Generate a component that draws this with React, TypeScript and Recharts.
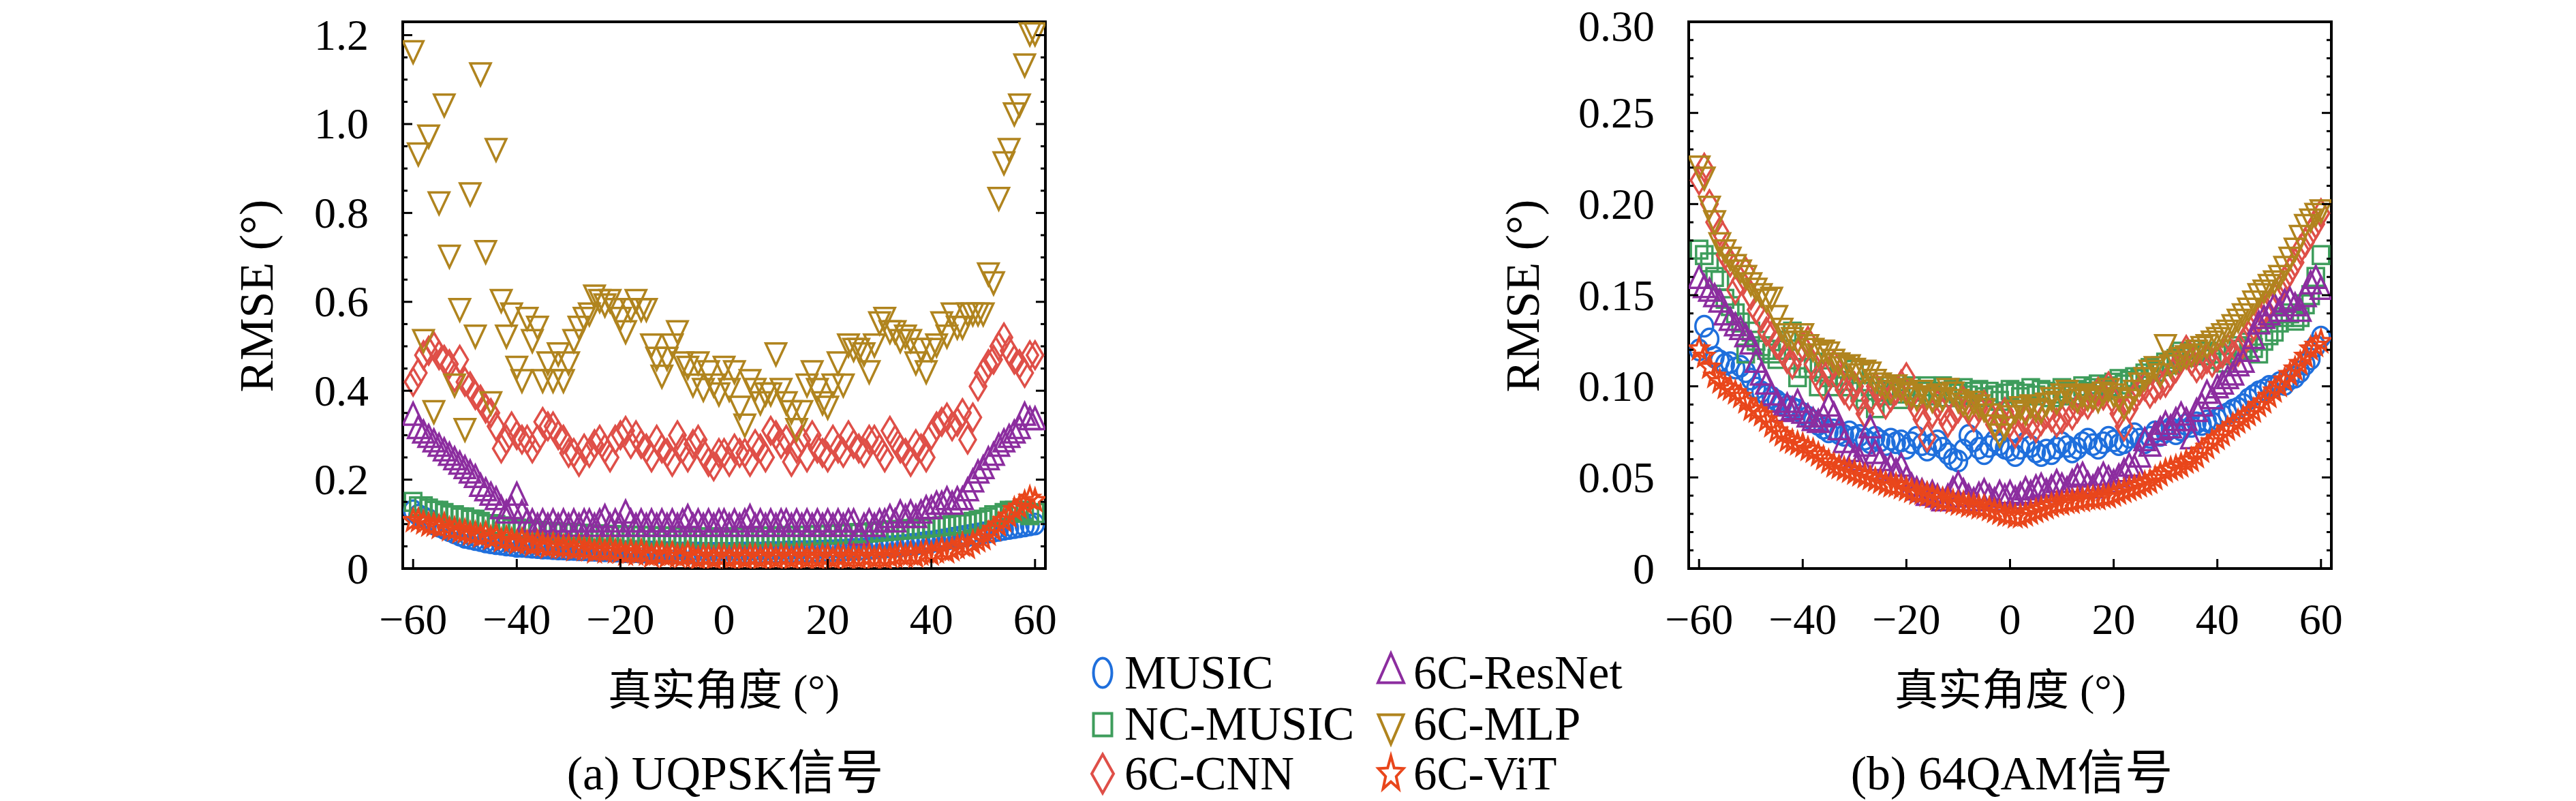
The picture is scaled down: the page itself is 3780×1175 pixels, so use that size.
import React from 'react';
import { ScatterChart, Scatter, XAxis, YAxis } from 'recharts';

const FONT = "'Liberation Serif', 'Noto Sans CJK SC', serif";

const ANGLES = [
  -60, -59, -58, -57, -56, -55, -54, -53, -52, -51,
  -50, -49, -48, -47, -46, -45, -44, -43, -42, -41,
  -40, -39, -38, -37, -36, -35, -34, -33, -32, -31,
  -30, -29, -28, -27, -26, -25, -24, -23, -22, -21,
  -20, -19, -18, -17, -16, -15, -14, -13, -12, -11,
  -10, -9, -8, -7, -6, -5, -4, -3, -2, -1,
  0, 1, 2, 3, 4, 5, 6, 7, 8, 9,
  10, 11, 12, 13, 14, 15, 16, 17, 18, 19,
  20, 21, 22, 23, 24, 25, 26, 27, 28, 29,
  30, 31, 32, 33, 34, 35, 36, 37, 38, 39,
  40, 41, 42, 43, 44, 45, 46, 47, 48, 49,
  50, 51, 52, 53, 54, 55, 56, 57, 58, 59, 60,
];

const SERIES_NAMES = ['MUSIC', 'NC-MUSIC', '6C-CNN', '6C-ResNet', '6C-MLP', '6C-ViT'];
const SERIES_COLORS = ['#1f6fdc', '#3e9d5c', '#df4f48', '#8c2d9f', '#b0841e', '#e9461b'];
const SERIES_KINDS = ['circle', 'square', 'diamond', 'triUp', 'triDown', 'star'];

// ---------- (a) UQPSK ----------
const MUSIC_A = [
  0.13, 0.12, 0.115, 0.11, 0.10, 0.095, 0.09, 0.085, 0.08, 0.075,
  0.07, 0.068, 0.065, 0.063, 0.06, 0.058, 0.056, 0.055, 0.053, 0.052,
  0.05, 0.05, 0.049, 0.048, 0.047, 0.046, 0.046, 0.045, 0.044, 0.044,
  0.043, 0.043, 0.042, 0.042, 0.041, 0.041, 0.04, 0.04, 0.04, 0.039,
  0.039, 0.038, 0.038, 0.038, 0.037, 0.037, 0.037, 0.036, 0.036, 0.036,
  0.036, 0.035, 0.035, 0.035, 0.035, 0.035, 0.034, 0.034, 0.034, 0.034,
  0.034, 0.034, 0.034, 0.035, 0.035, 0.035, 0.035, 0.035, 0.036, 0.036,
  0.036, 0.036, 0.037, 0.037, 0.037, 0.038, 0.038, 0.038, 0.039, 0.039,
  0.04, 0.04, 0.041, 0.041, 0.042, 0.043, 0.043, 0.044, 0.045, 0.046,
  0.047, 0.048, 0.049, 0.05, 0.051, 0.052, 0.054, 0.055, 0.057, 0.059,
  0.06, 0.062, 0.064, 0.066, 0.068, 0.07, 0.072, 0.074, 0.076, 0.078,
  0.08, 0.082, 0.084, 0.086, 0.088, 0.09, 0.092, 0.094, 0.096, 0.098, 0.1,
];
const NC_MUSIC_A = [
  0.15, 0.14, 0.14, 0.135, 0.13, 0.13, 0.125, 0.12, 0.12, 0.115,
  0.115, 0.11, 0.11, 0.105, 0.1, 0.1, 0.098, 0.095, 0.093, 0.09,
  0.09, 0.088, 0.087, 0.085, 0.085, 0.083, 0.082, 0.082, 0.08, 0.08,
  0.08, 0.079, 0.078, 0.078, 0.077, 0.077, 0.076, 0.076, 0.075, 0.075,
  0.075, 0.074, 0.074, 0.074, 0.073, 0.073, 0.073, 0.072, 0.072, 0.072,
  0.072, 0.071, 0.071, 0.071, 0.071, 0.07, 0.07, 0.07, 0.07, 0.07,
  0.07, 0.07, 0.07, 0.071, 0.071, 0.071, 0.071, 0.072, 0.072, 0.072,
  0.072, 0.073, 0.073, 0.073, 0.074, 0.074, 0.074, 0.075, 0.075, 0.076,
  0.076, 0.077, 0.077, 0.078, 0.078, 0.079, 0.08, 0.08, 0.081, 0.082,
  0.083, 0.084, 0.085, 0.086, 0.087, 0.088, 0.089, 0.09, 0.09, 0.092,
  0.093, 0.094, 0.095, 0.096, 0.098, 0.1, 0.1, 0.102, 0.105, 0.108,
  0.11, 0.115, 0.12, 0.12, 0.125, 0.13, 0.13, 0.125, 0.13, 0.12, 0.125,
];
const CNN_A = [
  0.42, 0.44, 0.48, 0.49, 0.50, 0.48, 0.47, 0.46, 0.43, 0.47,
  0.42, 0.41, 0.39, 0.38, 0.36, 0.35, 0.32, 0.27, 0.29, 0.32,
  0.30, 0.29, 0.29, 0.27, 0.29, 0.33, 0.32, 0.32, 0.30, 0.29,
  0.26, 0.26, 0.24, 0.27, 0.26, 0.28, 0.29, 0.27, 0.25, 0.29,
  0.30, 0.31, 0.28, 0.30, 0.28, 0.27, 0.25, 0.29, 0.27, 0.26,
  0.24, 0.30, 0.27, 0.25, 0.28, 0.29, 0.26, 0.24, 0.23, 0.26,
  0.26, 0.24, 0.27, 0.26, 0.26, 0.24, 0.28, 0.27, 0.25, 0.31,
  0.30, 0.28, 0.29, 0.24, 0.27, 0.29, 0.25, 0.30, 0.27, 0.26,
  0.25, 0.29, 0.27, 0.26, 0.30, 0.28, 0.27, 0.26, 0.29, 0.29,
  0.27, 0.25, 0.31, 0.29, 0.27, 0.26, 0.24, 0.28, 0.27, 0.25,
  0.30, 0.32, 0.33, 0.34, 0.32, 0.33, 0.35, 0.29, 0.34, 0.41,
  0.44, 0.46, 0.47, 0.50, 0.52, 0.49, 0.47, 0.46, 0.44, 0.48, 0.48,
];
const RESNET_A = [
  0.34, 0.31, 0.30, 0.29, 0.28, 0.27, 0.26, 0.25, 0.24, 0.23,
  0.22, 0.21, 0.20, 0.18, 0.17, 0.16, 0.15, 0.13, 0.12, 0.13,
  0.16, 0.12, 0.10, 0.10, 0.09, 0.10, 0.09, 0.10, 0.09, 0.10,
  0.09, 0.10, 0.09, 0.10, 0.10, 0.09, 0.10, 0.11, 0.09, 0.10,
  0.09, 0.12, 0.10, 0.09, 0.10, 0.09, 0.10, 0.09, 0.10, 0.09,
  0.10, 0.09, 0.10, 0.11, 0.09, 0.10, 0.09, 0.10, 0.09, 0.10,
  0.10, 0.09, 0.10, 0.09, 0.10, 0.11, 0.09, 0.10, 0.09, 0.10,
  0.09, 0.10, 0.10, 0.09, 0.10, 0.09, 0.10, 0.09, 0.10, 0.09,
  0.10, 0.09, 0.10, 0.09, 0.10, 0.10, 0.07, 0.09, 0.10, 0.09,
  0.10, 0.10, 0.11, 0.10, 0.12, 0.11, 0.12, 0.11, 0.12, 0.13,
  0.13, 0.14, 0.14, 0.15, 0.14, 0.15, 0.15, 0.17, 0.19, 0.21,
  0.22, 0.24, 0.25, 0.27, 0.28, 0.29, 0.30, 0.31, 0.34, 0.33, 0.33,
];
const MLP_A = [
  1.17, 0.94, 0.52, 0.98, 0.36, 0.83, 1.05, 0.71, 0.42, 0.59,
  0.32, 0.85, 0.53, 1.12, 0.72, 0.38, 0.95, 0.61, 0.53, 0.58,
  0.46, 0.43, 0.57, 0.52, 0.55, 0.43, 0.47, 0.43, 0.49, 0.43,
  0.47, 0.52, 0.55, 0.57, 0.58, 0.62, 0.61, 0.60, 0.61, 0.59,
  0.57, 0.54, 0.59, 0.61, 0.59, 0.59, 0.51, 0.48, 0.44, 0.48,
  0.51, 0.54, 0.47, 0.46, 0.42, 0.47, 0.41, 0.45, 0.42, 0.40,
  0.46, 0.41, 0.45, 0.37, 0.33, 0.43, 0.41, 0.38, 0.40, 0.40,
  0.49, 0.41, 0.38, 0.36, 0.32, 0.36, 0.42, 0.45, 0.41, 0.38,
  0.37, 0.42, 0.47, 0.42, 0.51, 0.50, 0.50, 0.49, 0.45, 0.51,
  0.56, 0.57, 0.54, 0.54, 0.52, 0.53, 0.52, 0.47, 0.50, 0.45,
  0.50, 0.51, 0.56, 0.53, 0.58, 0.55, 0.55, 0.58, 0.58, 0.58,
  0.58, 0.67, 0.65, 0.84, 0.92, 0.95, 1.03, 1.05, 1.14, 1.21, 1.21,
];
const VIT_A = [
  0.11, 0.11, 0.105, 0.10, 0.10, 0.095, 0.10, 0.09, 0.09, 0.085,
  0.085, 0.08, 0.08, 0.075, 0.08, 0.07, 0.075, 0.065, 0.07, 0.065,
  0.06, 0.065, 0.06, 0.055, 0.06, 0.055, 0.05, 0.055, 0.05, 0.05,
  0.05, 0.045, 0.05, 0.045, 0.045, 0.04, 0.045, 0.04, 0.045, 0.04,
  0.04, 0.035, 0.04, 0.035, 0.04, 0.035, 0.03, 0.035, 0.035, 0.03,
  0.035, 0.03, 0.03, 0.035, 0.03, 0.025, 0.03, 0.03, 0.025, 0.03,
  0.03, 0.025, 0.03, 0.03, 0.025, 0.03, 0.03, 0.025, 0.03, 0.03,
  0.025, 0.03, 0.03, 0.025, 0.03, 0.03, 0.025, 0.03, 0.025, 0.03,
  0.03, 0.025, 0.03, 0.03, 0.025, 0.03, 0.025, 0.03, 0.03, 0.025,
  0.03, 0.025, 0.03, 0.03, 0.035, 0.03, 0.035, 0.03, 0.035, 0.04,
  0.035, 0.04, 0.045, 0.04, 0.045, 0.05, 0.055, 0.05, 0.06, 0.065,
  0.07, 0.08, 0.09, 0.10, 0.11, 0.12, 0.135, 0.14, 0.15, 0.16, 0.155,
];

// ---------- (b) 64QAM ----------
const MUSIC_B = [
  0.12, 0.133, 0.126, 0.116, 0.114, 0.112, 0.113, 0.11, 0.111, 0.108,
  0.104, 0.099, 0.097, 0.095, 0.094, 0.092, 0.09, 0.089, 0.088, 0.087,
  0.085, 0.083, 0.081, 0.079, 0.077, 0.075, 0.076, 0.074, 0.073, 0.075,
  0.072, 0.073, 0.071, 0.069, 0.072, 0.07, 0.068, 0.071, 0.069, 0.07,
  0.066, 0.069, 0.072, 0.068, 0.065, 0.068, 0.07, 0.066, 0.063, 0.06,
  0.059, 0.065, 0.073, 0.07, 0.066, 0.063, 0.067, 0.07, 0.068, 0.066,
  0.065, 0.062, 0.066, 0.069, 0.067, 0.064, 0.062, 0.065, 0.063, 0.066,
  0.069, 0.067, 0.064, 0.066, 0.069, 0.071, 0.068, 0.066, 0.069, 0.072,
  0.07, 0.068, 0.069, 0.072, 0.074, 0.071, 0.069, 0.072, 0.075, 0.073,
  0.075, 0.077, 0.074, 0.076, 0.079, 0.078, 0.08, 0.079, 0.081, 0.08,
  0.082, 0.084, 0.085, 0.087, 0.088, 0.09, 0.093, 0.095, 0.097, 0.098,
  0.1, 0.1, 0.102, 0.101, 0.104, 0.105, 0.108, 0.112, 0.115, 0.122, 0.127,
];
const NC_MUSIC_B = [
  0.175, 0.172, 0.168, 0.16, 0.158, 0.148, 0.144, 0.14, 0.135, 0.118,
  0.13, 0.125, 0.122, 0.12, 0.118, 0.115, 0.12, 0.125, 0.13, 0.105,
  0.11, 0.11, 0.113, 0.1, 0.108, 0.105, 0.1, 0.106, 0.103, 0.1,
  0.109, 0.097, 0.093, 0.1, 0.088, 0.097, 0.095, 0.1, 0.096, 0.093,
  0.098, 0.1, 0.094, 0.097, 0.1, 0.095, 0.097, 0.1, 0.094, 0.098,
  0.096, 0.099, 0.095, 0.097, 0.098, 0.094, 0.097, 0.095, 0.092, 0.096,
  0.098, 0.097, 0.094, 0.096, 0.099, 0.095, 0.098, 0.097, 0.094, 0.096,
  0.099, 0.097, 0.095, 0.098, 0.1, 0.097, 0.099, 0.101, 0.098, 0.1,
  0.102, 0.104, 0.101, 0.103, 0.105, 0.104, 0.107, 0.11, 0.108, 0.111,
  0.113, 0.112, 0.115, 0.119, 0.116, 0.118, 0.12, 0.117, 0.119, 0.115,
  0.118, 0.113, 0.117, 0.12, 0.122, 0.12, 0.124, 0.121, 0.118, 0.125,
  0.128, 0.13, 0.135, 0.138, 0.14, 0.136, 0.138, 0.145, 0.15, 0.16, 0.172,
];
const CNN_B = [
  0.213, 0.22, 0.2, 0.19, 0.185, 0.172, 0.168, 0.153, 0.158, 0.163,
  0.15, 0.142, 0.138, 0.13, 0.128, 0.123, 0.12, 0.115, 0.112, 0.118,
  0.122, 0.125, 0.112, 0.105, 0.1, 0.108, 0.112, 0.104, 0.098, 0.095,
  0.1, 0.092, 0.085, 0.093, 0.1, 0.096, 0.09, 0.094, 0.098, 0.101,
  0.105, 0.095, 0.088, 0.082, 0.072, 0.085, 0.09, 0.086, 0.08, 0.084,
  0.088, 0.092, 0.087, 0.083, 0.088, 0.09, 0.085, 0.079, 0.083, 0.086,
  0.08, 0.074, 0.078, 0.082, 0.079, 0.077, 0.081, 0.085, 0.083, 0.08,
  0.082, 0.086, 0.084, 0.088, 0.092, 0.09, 0.094, 0.097, 0.095, 0.1,
  0.092, 0.085, 0.078, 0.088, 0.094, 0.098, 0.1, 0.096, 0.099, 0.101,
  0.102, 0.106, 0.11, 0.115, 0.12, 0.114, 0.11, 0.112, 0.115, 0.113,
  0.116, 0.118, 0.121, 0.117, 0.119, 0.124, 0.128, 0.133, 0.138, 0.141,
  0.145, 0.149, 0.153, 0.158, 0.163, 0.168, 0.175, 0.179, 0.184, 0.189, 0.195,
];
const RESNET_B = [
  0.158, 0.153, 0.151, 0.148, 0.145, 0.138, 0.135, 0.132, 0.13, 0.126,
  0.122, 0.112, 0.105, 0.1, 0.094, 0.09, 0.085, 0.088, 0.086, 0.09,
  0.084, 0.082, 0.08, 0.079, 0.082, 0.088, 0.083, 0.075, 0.068, 0.063,
  0.06, 0.058, 0.066, 0.076, 0.062, 0.058, 0.053, 0.055, 0.052, 0.055,
  0.048, 0.044, 0.042, 0.041, 0.039, 0.04, 0.038, 0.036, 0.038, 0.042,
  0.045, 0.041, 0.038, 0.036, 0.039, 0.041, 0.038, 0.036, 0.04, 0.038,
  0.04, 0.037, 0.039, 0.042, 0.04, 0.043, 0.044, 0.041, 0.043, 0.046,
  0.044, 0.042, 0.046, 0.049, 0.05, 0.045, 0.043, 0.047, 0.05, 0.048,
  0.046, 0.049, 0.052, 0.055, 0.054, 0.06, 0.069, 0.066, 0.072, 0.075,
  0.078, 0.076, 0.08, 0.083, 0.08, 0.07, 0.085, 0.088, 0.095, 0.092,
  0.098, 0.1, 0.103, 0.105, 0.11, 0.112, 0.118, 0.125, 0.133, 0.136,
  0.138, 0.143, 0.14, 0.145, 0.146, 0.143, 0.14, 0.148, 0.155, 0.158, 0.152,
];
const MLP_B = [
  0.222, 0.216, 0.2, 0.192, 0.18, 0.176, 0.172, 0.168, 0.165, 0.162,
  0.158, 0.155, 0.152, 0.149, 0.15, 0.14, 0.133, 0.13, 0.128, 0.126,
  0.13, 0.124, 0.122, 0.119, 0.121, 0.12, 0.116, 0.114, 0.112, 0.113,
  0.111, 0.108, 0.11, 0.109, 0.105, 0.103, 0.101, 0.099, 0.102, 0.1,
  0.098, 0.097, 0.095, 0.099, 0.096, 0.094, 0.097, 0.095, 0.1, 0.098,
  0.094, 0.092, 0.09, 0.093, 0.091, 0.089, 0.086, 0.08, 0.075, 0.079,
  0.085, 0.088, 0.09, 0.087, 0.091, 0.089, 0.088, 0.092, 0.095, 0.093,
  0.097, 0.099, 0.096, 0.094, 0.097, 0.095, 0.096, 0.094, 0.098, 0.1,
  0.097, 0.095, 0.09, 0.094, 0.099, 0.103, 0.106, 0.11, 0.112, 0.108,
  0.124, 0.113, 0.115, 0.117, 0.118, 0.119, 0.121, 0.123, 0.124, 0.126,
  0.128, 0.13, 0.132, 0.135, 0.138, 0.141, 0.144, 0.148, 0.152, 0.154,
  0.157, 0.159, 0.162, 0.167, 0.172, 0.177, 0.184, 0.19, 0.193, 0.196, 0.198,
];
const VIT_B = [
  0.121, 0.117, 0.111, 0.106, 0.103, 0.1, 0.099, 0.097, 0.095, 0.092,
  0.088, 0.087, 0.085, 0.082, 0.079, 0.076, 0.074, 0.071, 0.07, 0.069,
  0.068, 0.066, 0.065, 0.063, 0.061, 0.059, 0.057, 0.056, 0.055, 0.054,
  0.053, 0.052, 0.051, 0.05, 0.049, 0.048, 0.047, 0.046, 0.046, 0.045,
  0.044, 0.043, 0.042, 0.042, 0.041, 0.04, 0.039, 0.038, 0.038, 0.037,
  0.036, 0.036, 0.035, 0.035, 0.034, 0.034, 0.033, 0.032, 0.031, 0.03,
  0.03, 0.029, 0.029, 0.03, 0.031, 0.032, 0.033, 0.034, 0.035, 0.036,
  0.036, 0.037, 0.037, 0.038, 0.038, 0.039, 0.039, 0.039, 0.04, 0.04,
  0.041, 0.042, 0.043, 0.044, 0.045, 0.046, 0.047, 0.048, 0.05, 0.052,
  0.054, 0.055, 0.056, 0.057, 0.059, 0.06, 0.062, 0.065, 0.067, 0.07,
  0.072, 0.074, 0.077, 0.079, 0.081, 0.083, 0.085, 0.087, 0.09, 0.092,
  0.095, 0.098, 0.101, 0.104, 0.107, 0.11, 0.113, 0.117, 0.121, 0.123, 0.125,
];

// ---------- axes ----------
const X_DOMAIN = [-62, 62];
const X_TICKS = [-60, -40, -20, 0, 20, 40, 60];
const X_TICK_LABELS = ['\u221260', '\u221240', '\u221220', '0', '20', '40', '60'];

const Y_DOMAIN_A = [0, 1.23];
const Y_TICKS_A = [
  0, 0.05, 0.1, 0.15, 0.2, 0.25, 0.3, 0.35, 0.4, 0.45, 0.5, 0.55, 0.6,
  0.65, 0.7, 0.75, 0.8, 0.85, 0.9, 0.95, 1.0, 1.05, 1.1, 1.15, 1.2,
];
const Y_MAJOR_A = [0, 0.2, 0.4, 0.6, 0.8, 1.0, 1.2];
const Y_LABELS_A = ['0', '0.2', '0.4', '0.6', '0.8', '1.0', '1.2'];

const Y_DOMAIN_B = [0, 0.3];
const Y_TICKS_B = [
  0, 0.01, 0.02, 0.03, 0.04, 0.05, 0.06, 0.07, 0.08, 0.09, 0.1,
  0.11, 0.12, 0.13, 0.14, 0.15, 0.16, 0.17, 0.18, 0.19, 0.2,
  0.21, 0.22, 0.23, 0.24, 0.25, 0.26, 0.27, 0.28, 0.29, 0.3,
];
const Y_MAJOR_B = [0, 0.05, 0.1, 0.15, 0.2, 0.25, 0.3];
const Y_LABELS_B = ['0', '0.05', '0.10', '0.15', '0.20', '0.25', '0.30'];

const SERIES_A = [MUSIC_A, NC_MUSIC_A, CNN_A, RESNET_A, MLP_A, VIT_A];
const SERIES_B = [MUSIC_B, NC_MUSIC_B, CNN_B, RESNET_B, MLP_B, VIT_B];

// ---------- markers ----------
const PLOT_SIZE: Record<string, [number, number]> = {
  circle: [26, 30],
  square: [24, 26],
  diamond: [24, 40],
  triUp: [30, 32],
  triDown: [30, 32],
  star: [28, 30],
};
const LEGEND_SIZE: Record<string, [number, number]> = {
  circle: [27, 43],
  square: [27, 33],
  diamond: [32, 57],
  triUp: [38, 43],
  triDown: [37, 43],
  star: [37, 48],
};

function starPath(cx: number, cy: number, w: number, h: number) {
  const rx = w / 2 / 0.951;
  const ry = h / 1.809;
  const cyc = cy - (h / 2 - ry);
  const pts: string[] = [];
  for (let i = 0; i < 10; i++) {
    const r = i % 2 === 0 ? 1 : 0.42;
    const a = -Math.PI / 2 + (i * Math.PI) / 5;
    pts.push(`${(cx + r * rx * Math.cos(a)).toFixed(2)},${(cyc + r * ry * Math.sin(a)).toFixed(2)}`);
  }
  return 'M' + pts.join('L') + 'Z';
}

function marker(kind: string, cx: number, cy: number, color: string, size: [number, number], sw: number, centroid: boolean) {
  const [w, h] = size;
  const common = { fill: 'none', stroke: color, strokeWidth: sw, strokeLinejoin: 'miter' as const };
  switch (kind) {
    case 'circle':
      return <ellipse cx={cx} cy={cy} rx={w / 2} ry={h / 2} {...common} />;
    case 'square':
      return <rect x={cx - w / 2} y={cy - h / 2} width={w} height={h} {...common} />;
    case 'diamond':
      return <path d={`M${cx},${cy - h / 2}L${cx + w / 2},${cy}L${cx},${cy + h / 2}L${cx - w / 2},${cy}Z`} {...common} />;
    case 'triUp': {
      const top = centroid ? cy - (2 * h) / 3 : cy - h / 2;
      const bot = top + h;
      return <path d={`M${cx},${top}L${cx + w / 2},${bot}L${cx - w / 2},${bot}Z`} {...common} />;
    }
    case 'triDown': {
      const bot = centroid ? cy + (2 * h) / 3 : cy + h / 2;
      const top = bot - h;
      return <path d={`M${cx - w / 2},${top}L${cx + w / 2},${top}L${cx},${bot}Z`} {...common} />;
    }
    default:
      return <path d={starPath(cx, cy, w, h)} {...common} />;
  }
}

// ---------- tick renderers ----------
const isIn = (v: number, list: number[]) => list.findIndex((m) => Math.abs(m - v) < 1e-9);

function makeLeftTick(majors: number[], labels: string[]) {
  return (p: any) => {
    const v = p.payload.value;
    const idx = isIn(v, majors);
    const major = idx >= 0;
    const ty = Math.max(p.y, 38);
    return (
      <g>
        <line x1={p.x} x2={p.x + (major ? 14 : 7)} y1={p.y} y2={p.y} stroke="#000" strokeWidth={3} />
        {major && (
          <text x={p.x - 50} y={ty} textAnchor="end" dominantBaseline="central" fontFamily={FONT} fontSize={64} fill="#000">
            {labels[idx]}
          </text>
        )}
      </g>
    );
  };
}
function makeRightTick(majors: number[]) {
  return (p: any) => {
    const major = isIn(p.payload.value, majors) >= 0;
    return <line x1={p.x} x2={p.x - (major ? 14 : 7)} y1={p.y} y2={p.y} stroke="#000" strokeWidth={3} />;
  };
}
const bottomTick = (p: any) => {
  const idx = isIn(p.payload.value, X_TICKS);
  return (
    <g>
      <line x1={p.x} x2={p.x} y1={p.y} y2={p.y - 14} stroke="#000" strokeWidth={3} />
      <text x={p.x} y={p.y + 96} textAnchor="middle" fontFamily={FONT} fontSize={64} fill="#000">
        {X_TICK_LABELS[idx]}
      </text>
    </g>
  );
};
const topTick = (p: any) => <line x1={p.x} x2={p.x} y1={p.y} y2={p.y + 14} stroke="#000" strokeWidth={3} />;

const FRAME = { stroke: '#000', strokeWidth: 4, strokeLinecap: 'square' as const };

function Panel(props: {
  left: number;
  marginLeft: number;
  marginRight: number;
  series: number[][];
  yDomain: number[];
  yTicks: number[];
  yMajor: number[];
  yLabels: string[];
}) {
  const { left, marginLeft, marginRight, series, yDomain, yTicks, yMajor, yLabels } = props;
  return (
    <div style={{ position: 'absolute', left, top: 0, width: 1600, height: 1000 }}>
      <ScatterChart width={1600} height={1000} margin={{ top: 31, right: marginRight, bottom: 66, left: marginLeft }}>
        <XAxis
          xAxisId="b"
          type="number"
          dataKey="x"
          domain={X_DOMAIN}
          ticks={X_TICKS}
          interval={0}
          tick={bottomTick}
          tickLine={false}
          axisLine={FRAME}
          tickSize={0}
          tickMargin={0}
          height={100}
          allowDataOverflow
        />
        <XAxis
          xAxisId="t"
          orientation="top"
          type="number"
          domain={X_DOMAIN}
          ticks={X_TICKS}
          interval={0}
          tick={topTick}
          tickLine={false}
          axisLine={FRAME}
          tickSize={0}
          tickMargin={0}
          height={1}
          allowDataOverflow
        />
        <YAxis
          yAxisId="l"
          type="number"
          dataKey="y"
          domain={yDomain}
          ticks={yTicks}
          interval={0}
          tick={makeLeftTick(yMajor, yLabels)}
          tickLine={false}
          axisLine={FRAME}
          tickSize={0}
          tickMargin={0}
          width={200}
          allowDataOverflow
        />
        <YAxis
          yAxisId="r"
          orientation="right"
          type="number"
          domain={yDomain}
          ticks={yTicks}
          interval={0}
          tick={makeRightTick(yMajor)}
          tickLine={false}
          axisLine={FRAME}
          tickSize={0}
          tickMargin={0}
          width={1}
          allowDataOverflow
        />
        {series.map((vals, si) => (
          <Scatter
            key={SERIES_NAMES[si]}
            name={SERIES_NAMES[si]}
            xAxisId="b"
            yAxisId="l"
            data={ANGLES.map((a, i) => ({ x: a, y: vals[i] }))}
            isAnimationActive={false}
            shape={(p: any) => marker(SERIES_KINDS[si], p.cx, p.cy, SERIES_COLORS[si], PLOT_SIZE[SERIES_KINDS[si]], 3.5, true)}
          />
        ))}
      </ScatterChart>
    </div>
  );
}

const LEGEND_COLS = [
  { markerX: 1618, textX: 1650 },
  { markerX: 2041, textX: 2074 },
];
const LEGEND_ROW_BASELINES = [1010, 1085, 1158];
const LEGEND_MARKER_Y = [
  [987, 1063, 1135],
  [980, 1070, 1133],
];

export default function App() {
  return (
    <div style={{ position: 'absolute', left: 0, top: 0, width: 3780, height: 1175, background: '#fff', overflow: 'hidden' }}>
      <Panel
        left={0}
        marginLeft={391}
        marginRight={65}
        series={SERIES_A}
        yDomain={Y_DOMAIN_A}
        yTicks={Y_TICKS_A}
        yMajor={Y_MAJOR_A}
        yLabels={Y_LABELS_A}
      />
      <Panel
        left={1900}
        marginLeft={378}
        marginRight={78}
        series={SERIES_B}
        yDomain={Y_DOMAIN_B}
        yTicks={Y_TICKS_B}
        yMajor={Y_MAJOR_B}
        yLabels={Y_LABELS_B}
      />
      <svg width={3780} height={1175} style={{ position: 'absolute', left: 0, top: 0, pointerEvents: 'none' }} fontFamily={FONT}>
        <text x={376} y={434} transform="rotate(-90 376 434)" textAnchor="middle" dominantBaseline="central" fontSize={70} fill="#000">
          RMSE (°)
        </text>
        <text x={2234} y={434} transform="rotate(-90 2234 434)" textAnchor="middle" dominantBaseline="central" fontSize={70} fill="#000">
          RMSE (°)
        </text>
        <text x={1062} y={1012} textAnchor="middle" dominantBaseline="central" fontSize={64} fill="#000">
          真实角度 (°)
        </text>
        <text x={2950} y={1012} textAnchor="middle" dominantBaseline="central" fontSize={64} fill="#000">
          真实角度 (°)
        </text>
        <text x={1064} y={1158} textAnchor="middle" fontSize={70} fill="#000">
          (a) UQPSK信号
        </text>
        <text x={2952} y={1158} textAnchor="middle" fontSize={70} fill="#000">
          (b) 64QAM信号
        </text>
        {SERIES_NAMES.map((name, si) => {
          const col = si < 3 ? 0 : 1;
          const row = si % 3;
          const kind = SERIES_KINDS[si];
          return (
            <g key={name}>
              {marker(kind, LEGEND_COLS[col].markerX, LEGEND_MARKER_Y[col][row], SERIES_COLORS[si], LEGEND_SIZE[kind], 4, false)}
              <text x={LEGEND_COLS[col].textX} y={LEGEND_ROW_BASELINES[row]} fontSize={69} fill="#000">
                {name}
              </text>
            </g>
          );
        })}
      </svg>
    </div>
  );
}
